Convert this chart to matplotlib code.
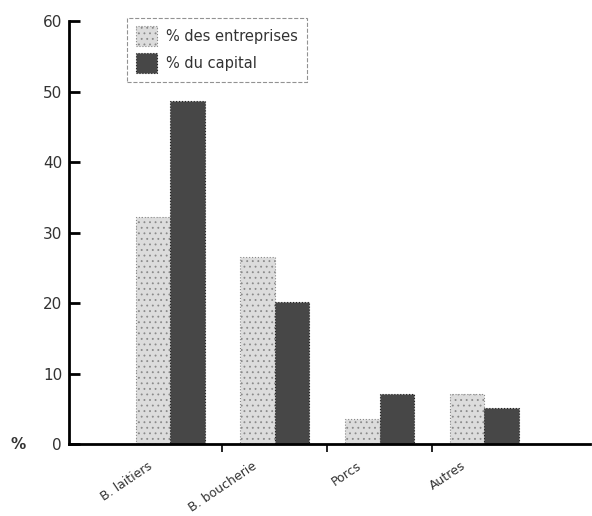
import matplotlib.pyplot as plt
import numpy as np

categories = ['B. laitiers', 'B. boucherie', 'Porcs', 'Autres']
pct_entreprises = [32.2, 26.5, 3.6, 7.1]
pct_capital = [48.6, 20.2, 7.1, 5.1]

x = np.arange(len(categories))
w = 0.33

plt.rcParams['hatch.color'] = '#c8c8c8'
plt.rcParams['hatch.linewidth'] = 0.6

fig = plt.figure(figsize=(5.92, 5.16), dpi=100)
ax = fig.add_axes([0.1166, 0.1395, 0.88, 0.8198])

ax.bar(x - w / 2, pct_entreprises, w, color='#dcdcdc', edgecolor='#8a8a8a',
       linewidth=0.8, linestyle=':', hatch='...', label='% des entreprises')
ax.bar(x + w / 2, pct_capital, w, color='#474747', edgecolor='#222222',
       linewidth=0.8, linestyle=':', label='% du capital')

ax.set_xlim(-0.965, 4.01)
ax.set_ylim(0, 60)
ax.set_yticks([0, 10, 20, 30, 40, 50, 60])
ax.tick_params(axis='y', direction='in', length=8, width=2, labelsize=11,
               labelcolor='#333333', pad=5)
ax.set_xticks([0.5, 1.5, 2.5])
ax.set_xticklabels([])
ax.tick_params(axis='x', direction='out', length=6, width=1.2)

for i, c in enumerate(categories):
    ax.text(i - 0.15, -2.2, c, rotation=34, ha='right', va='top',
            fontsize=9, color='#333333')

ax.text(-1.45, 0, '%', ha='center', va='center', fontsize=11, color='#333333',
        fontweight='bold', transform=ax.transData, clip_on=False)

for s in ['top', 'right']:
    ax.spines[s].set_visible(False)
ax.spines['left'].set_linewidth(2)
ax.spines['bottom'].set_linewidth(2)

leg = ax.legend(loc='upper left', bbox_to_anchor=(0.097, 1.025), fontsize=10.5,
                frameon=True, fancybox=False, handlelength=1.5, handleheight=1.7,
                labelcolor='#333333', borderpad=0.6, labelspacing=0.5,
                handletextpad=0.6)
leg.get_frame().set_edgecolor('#777777')
leg.get_frame().set_linestyle('--')
leg.get_frame().set_linewidth(0.8)

fig.savefig('out.png', dpi=100)
